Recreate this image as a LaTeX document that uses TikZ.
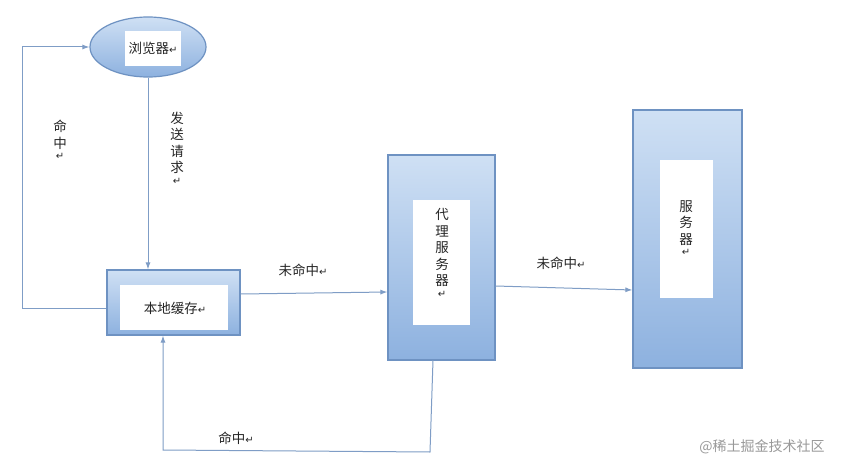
\documentclass[tikz,border=0pt]{standalone}
\usepackage{fontspec}
\setmainfont{Noto Sans CJK SC}
\newfontfamily\symf{DejaVu Sans}
\usetikzlibrary{shapes.geometric,arrows.meta}
\newcommand{\rt}{{\symf\fontsize{10}{10}\selectfont ↵}}
\definecolor{bord}{HTML}{6E92C2}
\definecolor{topc}{HTML}{CFE0F4}
\definecolor{botc}{HTML}{8DB1DF}
\definecolor{linec}{HTML}{7F9DC6}
\tikzset{
 boxs/.style={draw=bord,line width=1.2pt,top color=topc,bottom color=botc},
 conn/.style={draw=linec,line width=1pt},
 arr/.style={conn,-{Latex[length=7pt,width=5pt]}},
 lab/.style={font=\fontsize{13.5}{16.5}\selectfont,inner sep=0pt,align=center,text=black!85},
}
\begin{document}
\begin{tikzpicture}[x=1pt,y=-1pt]
\useasboundingbox[fill=white] (0,0) rectangle (867,476);
% browser
\node[boxs,ellipse,minimum width=116pt,minimum height=60pt] (br) at (148,47) {};
\fill[white] (125,31) rectangle (181,66);
\node[lab] (brt) at (153,48) {浏览器\rt};
% local cache
\node[boxs,draw,minimum width=133pt,minimum height=65pt,inner sep=0pt] (lc) at (173.5,302.5) {};
\fill[white] (120,285) rectangle (228,330);
\node[lab] (lct) at (175,308) {本地缓存\rt};
% proxy
\node[boxs,draw,minimum width=107pt,minimum height=205pt,inner sep=0pt] (px) at (441.5,257.5) {};
\fill[white] (413,200) rectangle (470,325);
\node[lab] (pxt) at (442,253) {代\\理\\服\\务\\器\\[-5pt]\rt};
% server
\node[boxs,draw,minimum width=109pt,minimum height=258pt,inner sep=0pt] (sv) at (687.5,239) {};
\fill[white] (660,160) rectangle (713,298);
\node[lab] (svt) at (686,228) {服\\务\\器\\[-5pt]\rt};
% browser -> cache
\draw[arr] (br.south) -- (lc.north -| br.south);
\node[lab] (l1) at (177,148) {发\\送\\请\\求\\[-5pt]\rt};
% hit loop left
\coordinate (a1) at (22,308);
\coordinate (a2) at (22,47);
\draw[arr] (lc.west |- a1) -- (a1) -- (a2) -- (br.west);
\node[lab] (l2) at (60,140) {命\\中\\[-5pt]\rt};
% cache -> proxy
\draw[arr] (lc.east |- 0,294) -- (px.west |- 0,292);
\node[lab] (l3) at (303,270) {未命中\rt};
% proxy -> server
\draw[arr] (px.east |- 0,286) -- (sv.west |- 0,290);
\node[lab] (l4) at (561,263) {未命中\rt};
% bottom loop
\coordinate (b1) at (430,452);
\coordinate (b2) at (163,450);
\draw[arr] (433,360) -- (b1) -- (b2) -- (lc.south -| b2);
\node[lab] (l5) at (236,438) {命中\rt};
% watermark
\node[lab,text=gray!80,font=\fontsize{14}{16}\selectfont] (wm) at (762,447) {@稀土掘金技术社区};
\end{tikzpicture}
\end{document}
